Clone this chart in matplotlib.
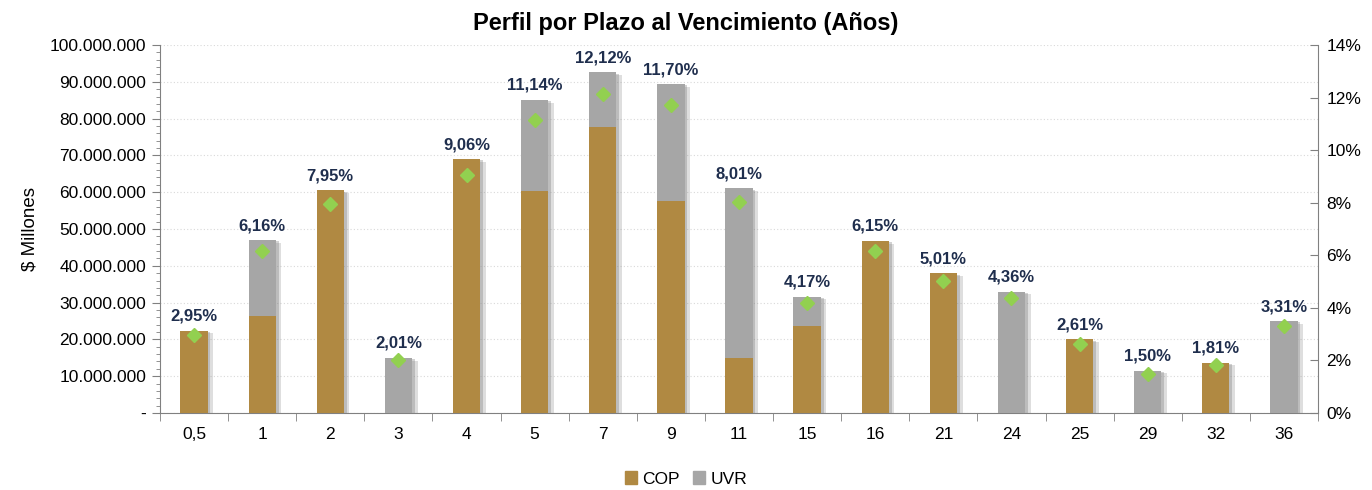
import matplotlib
matplotlib.use("Agg")
import matplotlib.pyplot as plt
import matplotlib.patheffects as pe
from matplotlib.patches import Patch
from matplotlib.ticker import FixedLocator, FuncFormatter, MultipleLocator
import numpy as np

categories = ["0,5", "1", "2", "3", "4", "5", "7", "9", "11", "15", "16", "21", "24", "25", "29", "32", "36"]
cop = [22.4, 26.4, 60.5, 0, 69.0, 60.3, 77.6, 57.5, 14.9, 23.6, 46.8, 38.0, 0, 20.0, 0, 13.7, 0]
uvr = [0, 20.6, 0, 15.0, 0, 24.8, 15.0, 31.9, 46.2, 8.0, 0, 0, 33.0, 0, 11.5, 0, 25.0]
pct = [2.95, 6.16, 7.95, 2.01, 9.06, 11.14, 12.12, 11.70, 8.01, 4.17, 6.15, 5.01, 4.36, 2.61, 1.50, 1.81, 3.31]
pct_labels = ["2,95%", "6,16%", "7,95%", "2,01%", "9,06%", "11,14%", "12,12%", "11,70%", "8,01%",
              "4,17%", "6,15%", "5,01%", "4,36%", "2,61%", "1,50%", "1,81%", "3,31%"]

FONT = ["Liberation Sans Narrow", "Liberation Sans", "DejaVu Sans"]
plt.rcParams['font.family'] = FONT

C_COP = "#B08942"
C_UVR = "#A6A6A6"
C_GREEN = "#92D050"
C_LBL = "#1F2E4D"

fig = plt.figure(figsize=(13.72, 4.90), dpi=100)
ax = fig.add_axes([160/1372, 77/490, 1158/1372, 368/490])

x = np.arange(len(categories))
cop_v = np.array(cop) * 1e6
uvr_v = np.array(uvr) * 1e6
totals = cop_v + uvr_v
w = 0.4

# soft shadow behind each whole bar
sh = ax.bar(x, totals, w, color="#808080", zorder=2)
for b in sh:
    b.set_path_effects([pe.SimplePatchShadow(offset=(4, -2), shadow_rgbFace="#7F7F7F", alpha=0.25),
                        pe.SimplePatchShadow(offset=(2, -1), shadow_rgbFace="#7F7F7F", alpha=0.35)])
b1 = ax.bar(x, cop_v, w, color=C_COP, zorder=3)
b2 = ax.bar(x, uvr_v, w, bottom=cop_v, color=C_UVR, zorder=3)

ax.set_xlim(-0.5, len(categories) - 0.5)
ax.set_ylim(0, 100e6)
ax.yaxis.set_major_locator(MultipleLocator(10e6))
ax.yaxis.set_minor_locator(MultipleLocator(2e6))

def fmt(v, p):
    if v == 0:
        return "-"
    return f"{int(round(v)):,}".replace(",", ".")
ax.yaxis.set_major_formatter(FuncFormatter(fmt))
ax.grid(axis="y", color="#D9D9D9", linestyle=(0, (1, 2)), linewidth=0.8, zorder=0)
ax.set_axisbelow(True)

ax.set_xticks(x)
ax.set_xticklabels(categories)
ax.xaxis.set_minor_locator(FixedLocator(np.arange(-0.5, len(categories), 1.0)))
ax.tick_params(axis="x", which="major", length=0, pad=10, labelsize=12.5)
ax.tick_params(axis="x", which="minor", length=6, color="#808080")
ax.tick_params(axis="y", which="major", length=6, color="#808080", labelsize=12.5, pad=4)
ax.tick_params(axis="y", which="minor", length=3, color="#808080")

for s in ["top", "right"]:
    ax.spines[s].set_visible(False)
for s in ["left", "bottom"]:
    ax.spines[s].set_color("#808080")

ax.set_ylabel("$ Millones", fontsize=13.5, labelpad=8)

ax2 = ax.twinx()
ax2.set_ylim(0, 14)
ax2.yaxis.set_major_locator(MultipleLocator(2))
ax2.yaxis.set_major_formatter(FuncFormatter(lambda v, p: f"{int(round(v))}%"))
ax2.tick_params(axis="y", length=6, color="#808080", labelsize=12.5, direction="in", pad=6)
for s in ["top", "left", "bottom"]:
    ax2.spines[s].set_visible(False)
ax2.spines["right"].set_color("#808080")
ax2.plot(x, pct, linestyle="none", marker="D", markersize=7, color=C_GREEN, zorder=5)

for xi, t, lab in zip(x, totals, pct_labels):
    ax.annotate(lab, (xi, t), xytext=(0, 5), textcoords="offset points", ha="center", va="bottom",
                fontsize=12, fontweight="bold", color=C_LBL, zorder=6)

fig.suptitle("Perfil por Plazo al Vencimiento (Años)", fontsize=17, fontweight="bold", y=0.975)

handles = [Patch(color=C_COP), Patch(color=C_UVR)]
fig.legend(handles=handles, labels=["COP", "UVR"], loc="lower center", bbox_to_anchor=(0.5, -0.025),
           ncol=2, frameon=False, fontsize=12.5, handlelength=0.7, handleheight=0.7, columnspacing=0.8,
           handletextpad=0.3)

fig.savefig("out.png", dpi=100)
